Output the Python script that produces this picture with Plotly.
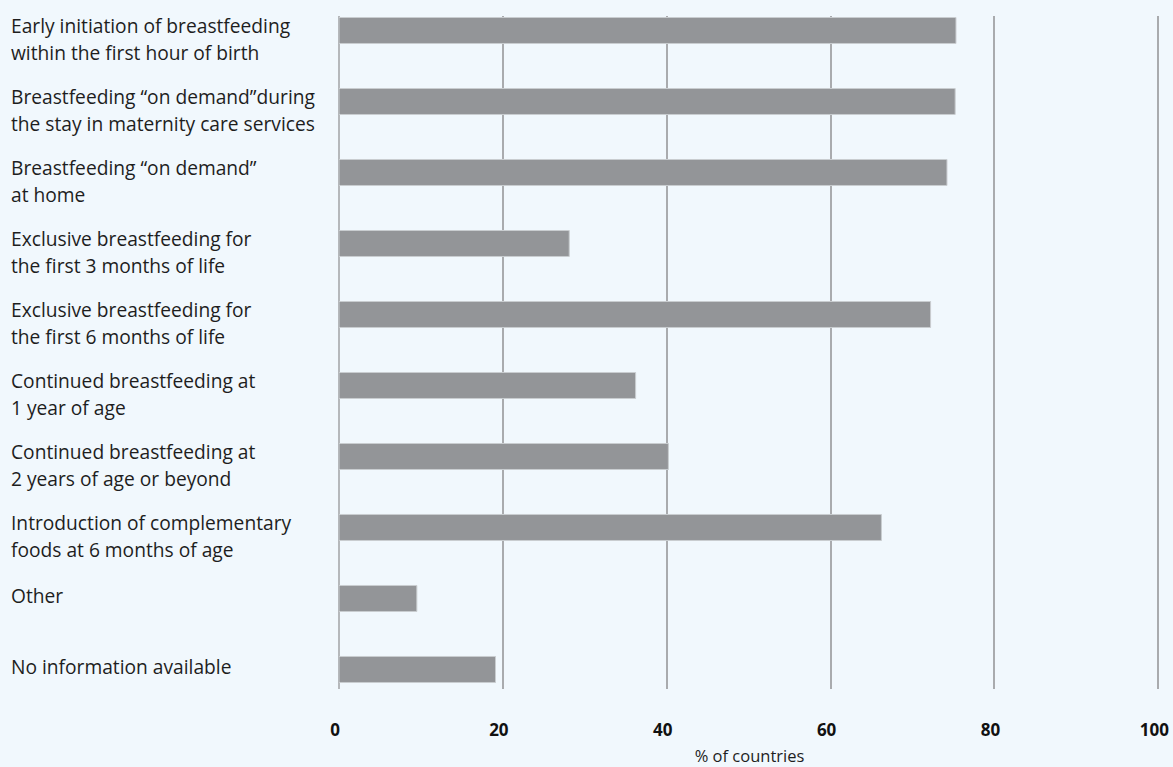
import plotly.graph_objects as go

categories = [
    ["Early initiation of breastfeeding", "within the first hour of birth"],
    ["Breastfeeding \u201con demand\u201dduring", "the stay in maternity care services"],
    ["Breastfeeding \u201con demand\u201d", "at home"],
    ["Exclusive breastfeeding for", "the first 3 months of life"],
    ["Exclusive breastfeeding for", "the first 6 months of life"],
    ["Continued breastfeeding at", "1 year of age"],
    ["Continued breastfeeding at", "2 years of age or beyond"],
    ["Introduction of complementary", "foods at 6 months of age"],
    ["Other"],
    ["No information available"],
]
values = [75.3, 75.2, 74.2, 28.1, 72.2, 36.2, 40.2, 66.2, 9.5, 19.1]
tick_values = [0, 20, 40, 60, 80, 100]
x_title = "% of countries"

cat_keys = [" ".join(c) for c in categories]

BG = "#f1f8fd"
TEXT = "#1e1e1e"
FONT = "Open Sans"

fig = go.Figure()
fig.add_trace(go.Bar(
    x=values,
    y=cat_keys,
    orientation="h",
    width=0.366,
    marker=dict(color="#939598", line=dict(color="#c9cdd0", width=1)),
    hoverinfo="x+y",
))

annotations = []
for key, lines in zip(cat_keys, categories):
    shifts = [3] if len(lines) == 1 else [5, -22]
    for line, s in zip(lines, shifts):
        annotations.append(dict(
            x=0, xref="paper", xshift=-330, xanchor="left",
            y=key, yref="y", yshift=s, yanchor="middle",
            text=line, showarrow=False,
            font=dict(family=FONT, size=19.2, color=TEXT),
        ))

fig.update_layout(
    width=1173, height=767,
    margin=dict(l=339, r=13, t=16, b=78, pad=0),
    paper_bgcolor=BG, plot_bgcolor=BG,
    showlegend=False,
    annotations=annotations,
    xaxis=dict(
        range=[0, 100.2],
        tickvals=tick_values,
        ticktext=[str(v) for v in tick_values],
        showgrid=True, gridcolor="#a9abae", gridwidth=1.5,
        zeroline=True, zerolinecolor="#b5b8bb", zerolinewidth=1.5,
        showline=False, ticks="",
        automargin=False,
        ticklabelstandoff=29,
        ticklabelshift=-4,
        ticklabeloverflow="allow",
        tickfont=dict(family=FONT, size=17, color="#111111", weight="bold"),
        title=dict(text=x_title, standoff=13,
                   font=dict(family=FONT, size=16.5, color=TEXT)),
        fixedrange=True,
    ),
    yaxis=dict(
        categoryorder="array", categoryarray=cat_keys,
        range=[9.275, -0.204],
        showticklabels=False, showgrid=False, zeroline=False, ticks="",
        automargin=False,
        fixedrange=True,
    ),
)

fig.write_html("out.html", config={"displayModeBar": False},
               post_script="document.body.style.margin='0px';")
